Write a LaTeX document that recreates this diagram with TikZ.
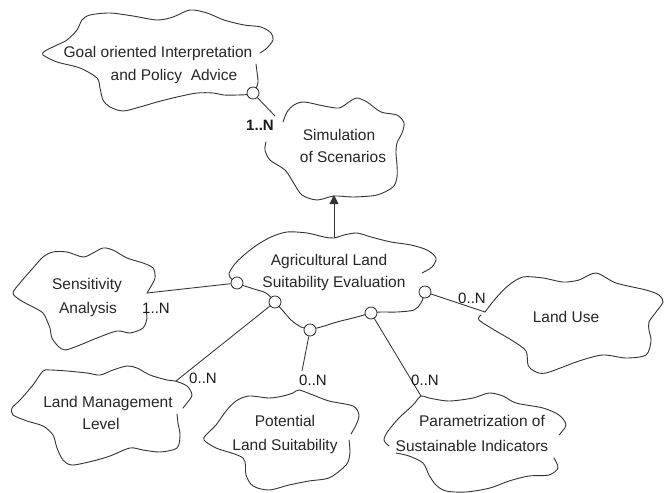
\documentclass[tikz,border=0pt]{standalone}
\usepackage{fontspec}
\setmainfont{Liberation Sans}
\usetikzlibrary{arrows.meta}
\begin{document}
\begin{tikzpicture}[x=1pt,y=-1pt,
  cloudline/.style={draw=black!80, line width=0.9pt, line join=round, line cap=round},
  conn/.style={draw=black!80, line width=0.85pt},
  port/.style={circle, draw=black!80, fill=white, line width=0.85pt, inner sep=0pt, minimum size=12pt},
  txt/.style={font=\fontsize{15.5}{18}\selectfont, inner sep=0pt, anchor=base, text=black!85},
  mult/.style={font=\fontsize{15}{18}\selectfont, inner sep=0pt, text=black!90}]
\useasboundingbox (0,0) rectangle (670,493);

% ---------- clouds ----------
% Goal oriented Interpretation
\draw[cloudline] plot[smooth, tension=0.5] coordinates {(256,64) (257,72) (258,82) (256,88) (250,94) (237,95) (224,95) (213,93) (197,93) (177,97) (157,102) (140,107) (123,111) (110,107) (103,100) (100,88) (97,78) (80,68) (57,62) (43,55) (45,51) (57,45) (67,40) (77,30) (82,20) (90,15) (110,13) (133,16) (157,20) (173,17) (190,10) (207,13) (224,20) (244,25) (261,27) (271,33) (273,40) (267,48) (260,53)};
% Simulation
\draw[cloudline] plot[smooth, tension=0.5] coordinates {(283,122) (287,112) (294,105) (304,102) (324,106) (339,108) (349,102) (357,98) (367,102) (381,112) (397,115) (404,123) (402,133) (397,143) (396,153) (397,165) (397,177) (393,187) (377,195) (353,197) (334,196) (317,200) (302,195) (293,182) (285,170) (270,160) (265,150) (266,142)};
% Agricultural
\draw[cloudline] plot[smooth, tension=0.5] coordinates {(422,273) (432,267) (436,258) (427,250) (411,245) (391,242) (371,237) (357,233) (344,235) (334,238) (324,237) (307,233) (287,232) (271,237) (257,245) (244,255) (234,265) (229,275) (237,283) (254,289) (266,293) (275,302) (284,312) (291,320) (301,327) (310,329) (321,327) (337,322) (357,317) (371,313) (381,312) (397,312) (414,310) (421,303) (425,292)};
% Sensitivity
\draw[cloudline] plot[smooth, tension=0.5] coordinates {(146,312) (147,318) (143,328) (130,333) (117,331) (97,338) (80,345) (65,350) (58,346) (52,338) (50,328) (48,323) (43,313) (33,307) (20,300) (13,293) (20,283) (33,268) (43,257) (53,252) (67,252) (83,257) (93,253) (103,248) (113,250) (127,258) (143,263) (153,268) (155,278) (150,288) (147,293)};
% Land Use
\draw[cloudline] plot[smooth, tension=0.5] coordinates {(485,312) (496,298) (509,285) (523,277) (543,278) (563,282) (579,280) (596,273) (616,283) (646,290) (659,295) (663,302) (656,312) (649,322) (649,330) (651,341) (646,355) (626,358) (603,355) (579,361) (546,373) (534,371) (528,365) (526,351) (513,341) (496,331) (479,320) (481,315)};
% Land Management
\draw[cloudline] plot[smooth, tension=0.5] coordinates {(177,414) (178,423) (180,435) (177,448) (160,452) (143,450) (130,448) (110,456) (93,461) (72,465) (63,460) (57,448) (53,435) (43,426) (27,421) (13,415) (12,408) (20,400) (33,385) (43,371) (50,370) (67,371) (87,373) (100,375) (113,370) (127,366) (137,368) (150,375) (167,380) (175,381) (187,386) (192,395) (187,403) (183,408)};
% Potential
\draw[cloudline] plot[smooth, tension=0.5] coordinates {(349,440) (350,452) (348,462) (343,468) (329,478) (309,481) (289,485) (269,490) (253,486) (246,475) (243,458) (216,448) (204,440) (206,435) (216,425) (226,411) (236,401) (249,396) (269,398) (283,396) (293,393) (299,390) (313,395) (329,401) (353,406) (359,415) (356,425) (351,434)};
% Parametrization
\draw[cloudline] plot[smooth, tension=0.5] coordinates {(389,446) (384,440) (388,431) (399,418) (413,405) (421,396) (429,398) (449,401) (473,398) (489,393) (503,396) (516,403) (543,408) (559,415) (566,425) (559,435)};
\draw[cloudline] plot[smooth, tension=0.5] coordinates {(554,458) (558,468) (549,475) (529,476) (509,481) (490,488) (466,492) (446,491) (436,485) (429,475) (423,463) (409,456) (396,453)};

% ---------- texts ----------
\node[txt] (goal1) at (158,57.5) {Goal oriented Interpretation};
\node[txt] (goal2) at (174,80.5) {and Policy~ Advice};
\node[txt] (sim1) at (339,140.5) {Simulation};
\node[txt] (sim2) at (343,162.5) {of Scenarios};
\node[txt] (ag1) at (329,265.5) {Agricultural Land};
\node[txt] (ag2) at (334,287.5) {Suitability Evaluation};
\node[txt] (sen1) at (87,289.5) {Sensitivity};
\node[txt] (sen2) at (88,313.5) {Analysis};
\node[txt] (lu) at (566,322.5) {Land Use};
\node[txt] (lm1) at (108,407.5) {Land Management};
\node[txt] (lm2) at (101,429.5) {Level};
\node[txt] (pot1) at (285,426.5) {Potential};
\node[txt] (pot2) at (285,450.5) {Land Suitability};
\node[txt] (par1) at (482,426.5) {Parametrization of};
\node[txt] (par2) at (472,451.5) {Sustainable Indicators};

% ---------- attachment points ----------
\coordinate (simIn) at (275,116);
\coordinate (simBot) at (334,195);
\coordinate (agTop) at (334,238);
\coordinate (senIn) at (147,293);
\coordinate (lmIn) at (176,381);
\coordinate (potIn) at (302,371);
\coordinate (parIn) at (421,396);
\coordinate (luIn) at (485,312);

% ---------- ports ----------
\node[port] (gp) at (253,93) {};
\node[port] (a1) at (237,283) {};
\node[port] (a2) at (275,302) {};
\node[port] (a3) at (310,330) {};
\node[port] (a4) at (371,313) {};
\node[port] (a5) at (425,292) {};

% ---------- connectors ----------
\draw[conn] (gp) -- (simIn);
\draw[conn, -{Triangle[length=9pt,width=9pt]}, fill=black!80] (agTop) -- (simBot);
\draw[conn] (a1) -- (senIn);
\draw[conn] (a2) -- (lmIn);
\draw[conn] (a3) -- (potIn);
\draw[conn] (a4) -- (parIn);
\draw[conn] (a5) -- (luIn);

% ---------- multiplicities ----------
\node[mult, font=\fontsize{15}{18}\selectfont\bfseries] (m1) at (260,125) {1..N};
\node[mult] (m2) at (156,308) {1..N};
\node[mult] (m3) at (203,378) {0..N};
\node[mult] (m4) at (313,380) {0..N};
\node[mult] (m5) at (425,380) {0..N};
\node[mult] (m6) at (472,298) {0..N};
\end{tikzpicture}
\end{document}
